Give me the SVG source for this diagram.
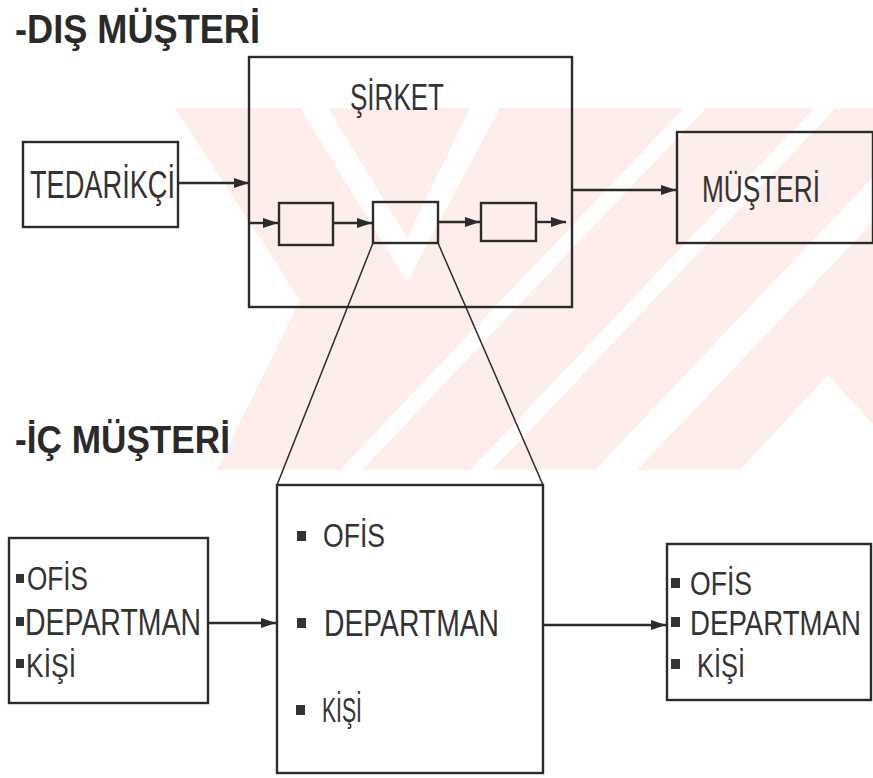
<svg xmlns="http://www.w3.org/2000/svg" width="873" height="778" viewBox="0 0 873 778">
<defs>
<style>
.box{fill:none;stroke:#2b2b2b;stroke-width:2.4}
.ln{fill:none;stroke:#2b2b2b;stroke-width:2.4}
.thin{fill:none;stroke:#2b2b2b;stroke-width:1.5}
.t{font-family:"Liberation Sans",Arial,sans-serif;fill:#333;font-weight:normal}
.h{font-family:"Liberation Sans",Arial,sans-serif;fill:#2a2a2a;font-weight:bold}
.bul{fill:#333}
.wm{fill:#fdedeb}
.wh{fill:#ffffff}
</style>
<marker id="ar" viewBox="0 0 12 8" markerWidth="15" markerHeight="10" refX="12" refY="4" orient="auto" markerUnits="userSpaceOnUse">
<path d="M0,0 L12,4 L0,8 z" fill="#2b2b2b"/>
</marker>
</defs>
<rect width="873" height="778" fill="#ffffff"/>
<g id="watermark">
<polygon class="wm" points="175,108 873,108 873,470 217,470 300,300"/>
<polygon class="wh" points="300,108 328,108 407,238 470,108 500,108 407,282"/>
<polygon class="wh" points="340,470 362,470 706,108 684,108"/>
<polygon class="wh" points="470,470 492,470 836,108 814,108"/>
<polygon class="wh" points="595,470 637,470 873,222 873,177"/>
<polygon class="wh" points="740,470 828,375 873,424 873,470"/>
</g>
<g id="title-dis">
<text class="h" x="15" y="43" font-size="41" textLength="245" lengthAdjust="spacingAndGlyphs">-DIŞ MÜŞTERİ</text>
</g>
<g id="title-ic">
<text class="h" x="15" y="453" font-size="39" textLength="215" lengthAdjust="spacingAndGlyphs">-İÇ MÜŞTERİ</text>
</g>
<g id="tedarikci">
<rect class="box" x="23" y="142" width="155" height="85"/>
<text class="t" x="30" y="198" font-size="39" textLength="145" lengthAdjust="spacingAndGlyphs">TEDARİKÇİ</text>
</g>
<g id="sirket">
<rect class="box" x="249" y="57" width="323" height="250"/>
<text class="t" x="350" y="110" font-size="37" textLength="94" lengthAdjust="spacingAndGlyphs">ŞİRKET</text>
</g>
<g id="surec1">
<rect class="box" x="279" y="203" width="54" height="42"/>
</g>
<g id="surec2">
<rect class="box" x="373" y="202" width="65" height="41"/>
</g>
<g id="surec3">
<rect class="box" x="481" y="203" width="55" height="38"/>
</g>
<g id="musteri">
<rect class="box" x="677" y="132" width="196" height="111"/>
<text class="t" x="702" y="202" font-size="37" textLength="118" lengthAdjust="spacingAndGlyphs">MÜŞTERİ</text>
</g>
<g id="ic-sol">
<rect class="box" x="9" y="538" width="199" height="165"/>
<rect class="bul" x="16" y="574" width="8" height="9"/>
<text class="t" x="27" y="590" font-size="33" textLength="61" lengthAdjust="spacingAndGlyphs">OFİS</text>
<rect class="bul" x="16" y="617" width="8" height="9"/>
<text class="t" x="25" y="635" font-size="36" textLength="176" lengthAdjust="spacingAndGlyphs">DEPARTMAN</text>
<rect class="bul" x="16" y="659" width="8" height="9"/>
<text class="t" x="26" y="677" font-size="34" textLength="50" lengthAdjust="spacingAndGlyphs">KİŞİ</text>
</g>
<g id="ic-orta">
<rect class="box" x="277" y="485" width="266" height="288"/>
<rect class="bul" x="297" y="531" width="9" height="10"/>
<text class="t" x="323" y="547" font-size="33" textLength="62" lengthAdjust="spacingAndGlyphs">OFİS</text>
<rect class="bul" x="297" y="618" width="9" height="10"/>
<text class="t" x="324" y="636" font-size="36" textLength="175" lengthAdjust="spacingAndGlyphs">DEPARTMAN</text>
<rect class="bul" x="296" y="705" width="9" height="10"/>
<text class="t" x="322" y="722" font-size="35" textLength="40" lengthAdjust="spacingAndGlyphs">KİŞİ</text>
</g>
<g id="ic-sag">
<rect class="box" x="667" y="544" width="204" height="156"/>
<rect class="bul" x="671" y="578" width="9" height="10"/>
<text class="t" x="690" y="595" font-size="34" textLength="62" lengthAdjust="spacingAndGlyphs">OFİS</text>
<rect class="bul" x="671" y="617" width="9" height="10"/>
<text class="t" transform="translate(690,635) scale(0.79,1)" x="0" y="0" font-size="35">DEPARTMAN</text>
<rect class="bul" x="671" y="659" width="9" height="10"/>
<text class="t" x="697" y="677" font-size="34" textLength="48" lengthAdjust="spacingAndGlyphs">KİŞİ</text>
</g>
<g id="connectors">
<path class="ln" d="M178,183 L249,183" marker-end="url(#ar)"/>
<path class="ln" d="M572,190 L676,190" marker-end="url(#ar)"/>
<path class="ln" d="M249,223 L278,223" marker-end="url(#ar)"/>
<path class="ln" d="M333,223 L372,223" marker-end="url(#ar)"/>
<path class="ln" d="M438,222 L480,222" marker-end="url(#ar)"/>
<path class="ln" d="M536,222 L566,222" marker-end="url(#ar)"/>
<path class="thin" d="M373,243 L277,485"/>
<path class="thin" d="M438,243 L543,485"/>
<path class="ln" d="M208,623 L276,623" marker-end="url(#ar)"/>
<path class="ln" d="M543,625 L666,625" marker-end="url(#ar)"/>
</g>
</svg>
